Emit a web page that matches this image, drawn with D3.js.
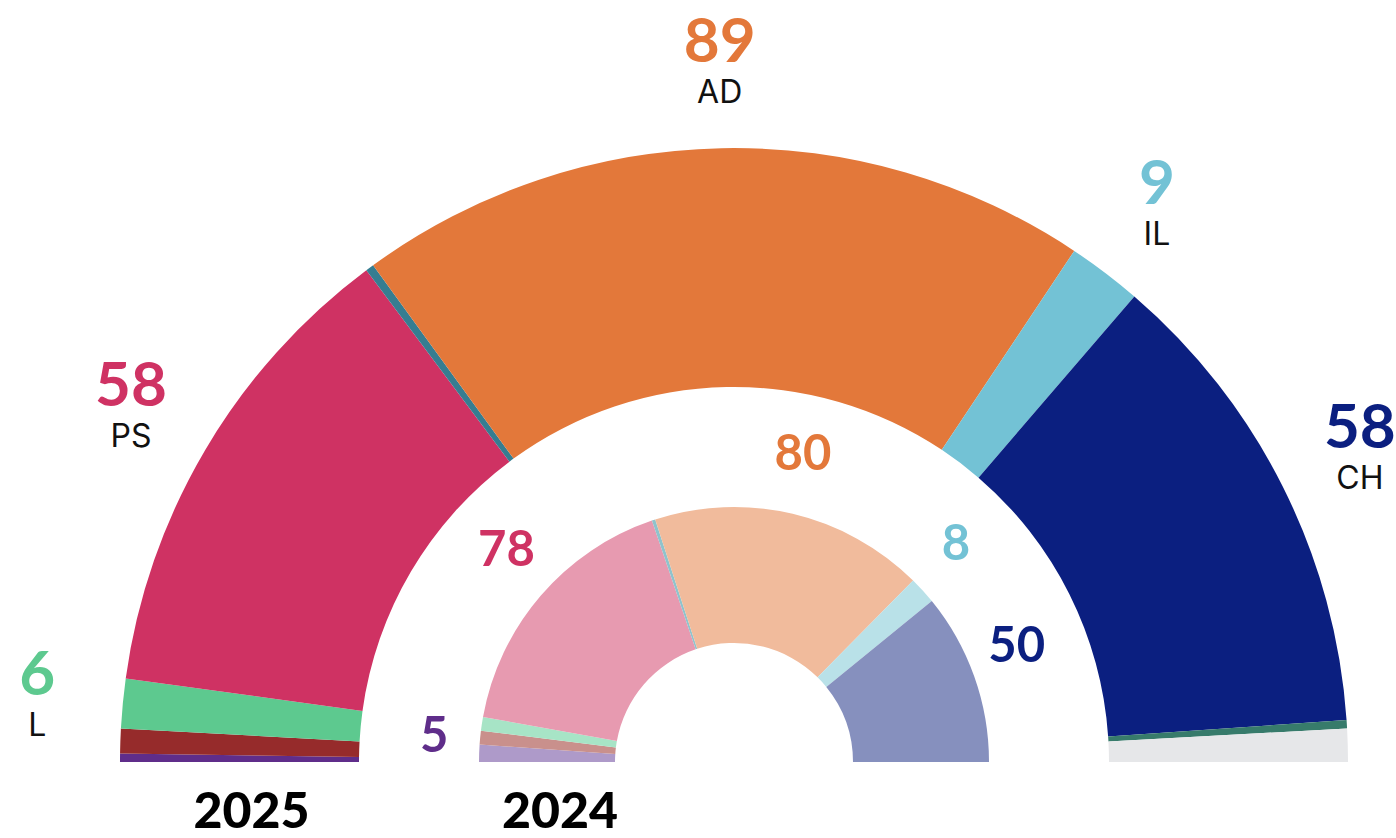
<!DOCTYPE html>
<html>
<head>
<meta charset="utf-8">
<script src="https://cdn.jsdelivr.net/npm/d3@7"></script>
<style>
  body { margin: 0; background: #fff; }
  svg { display: block; }
  .num { font-family: Lato, "Noto Sans", sans-serif; font-weight: 700; }
  .name { font-family: Inter, "Noto Sans", sans-serif; font-weight: 400; fill: #111; }
  .year { font-family: Lato, "Noto Sans", sans-serif; font-weight: 900; fill: #000; }
</style>
</head>
<body>
<svg width="1396" height="838"></svg>
<script>
var width = 1396, height = 838;

// 2025 (outer ring), left to right
var parties2025 = ["BE", "CDU", "L", "PS", "PAN", "AD", "IL", "CH", "JPP", "Por atribuir"];
var seats2025 = [1, 3, 6, 58, 1, 89, 9, 58, 1, 4];
var colors2025 = ["#5f2d8a", "#962b2b", "#5dc98f", "#cf3263", "#367d91", "#e3783a", "#73c2d5", "#0b1f80", "#377b6b", "#e6e7e9"];
var labelled2025 = ["L", "PS", "AD", "IL", "CH"];

// 2024 (inner ring)
var parties2024 = ["BE", "CDU", "L", "PS", "PAN", "AD", "IL", "CH"];
var seats2024 = [5, 4, 4, 78, 1, 80, 8, 50];
var colors2024 = ["#ae9ac9", "#c9908c", "#a7e4c6", "#e79ab0", "#8fc3cc", "#f1bb9c", "#b9e1e8", "#8690be"];
var labelled2024 = ["BE", "PS", "AD", "IL", "CH"];

var years = ["2025", "2024"];

var cx = 734, cy = 762;

var svg = d3.select("svg");
var g = svg.append("g").attr("transform", "translate(" + cx + "," + cy + ")");

var pie = d3.pie()
    .sort(null)
    .startAngle(-Math.PI / 2)
    .endAngle(Math.PI / 2);

function ring(parties, seats, colors, labelled, rIn, rOut, rLabel, withNames, numSize) {
    var data = parties.map(function(p, i) {
        return { party: p, seats: seats[i], color: colors[i], text: colors2025[parties2025.indexOf(p)] };
    });
    var arcs = pie.value(function(d) { return d.seats; })(data);

    var arc = d3.arc().innerRadius(rIn).outerRadius(rOut);
    var labelArc = d3.arc().innerRadius(rLabel).outerRadius(rLabel);

    g.append("g").selectAll("path")
        .data(arcs)
        .enter()
        .append("path")
        .attr("d", arc)
        .attr("fill", function(d) { return d.data.color; });

    // seat count sits on the slice's mid angle, party name below it
    var labels = g.append("g").selectAll("g")
        .data(arcs.filter(function(d) { return labelled.indexOf(d.data.party) >= 0; }))
        .enter()
        .append("g")
        .attr("transform", function(d) { return "translate(" + labelArc.centroid(d) + ")"; });

    labels.append("text")
        .attr("class", "num")
        .attr("text-anchor", "middle")
        .attr("font-size", numSize)
        .attr("fill", function(d) { return d.data.text; })
        .text(function(d) { return d.data.seats; });

    if (withNames) {
        labels.append("text")
            .attr("class", "name")
            .attr("text-anchor", "middle")
            .attr("y", 41)
            .attr("font-size", 32)
            .text(function(d) { return d.data.party; });
    }
}

ring(parties2025, seats2025, colors2025, labelled2025, 375, 614, 700, true, 62);
ring(parties2024, seats2024, colors2024, labelled2024, 119, 255, 300, false, 49);

// year labels under the left side of each ring
var yearX = [cx - (375 + 614) / 2 + 12, cx - (119 + 255) / 2 + 13];
svg.selectAll(".year")
    .data(years)
    .enter()
    .append("text")
    .attr("class", "year")
    .attr("text-anchor", "middle")
    .attr("font-size", 50)
    .attr("x", function(d, i) { return yearX[i]; })
    .attr("y", 828)
    .text(function(d) { return d; });
</script>
</body>
</html>
